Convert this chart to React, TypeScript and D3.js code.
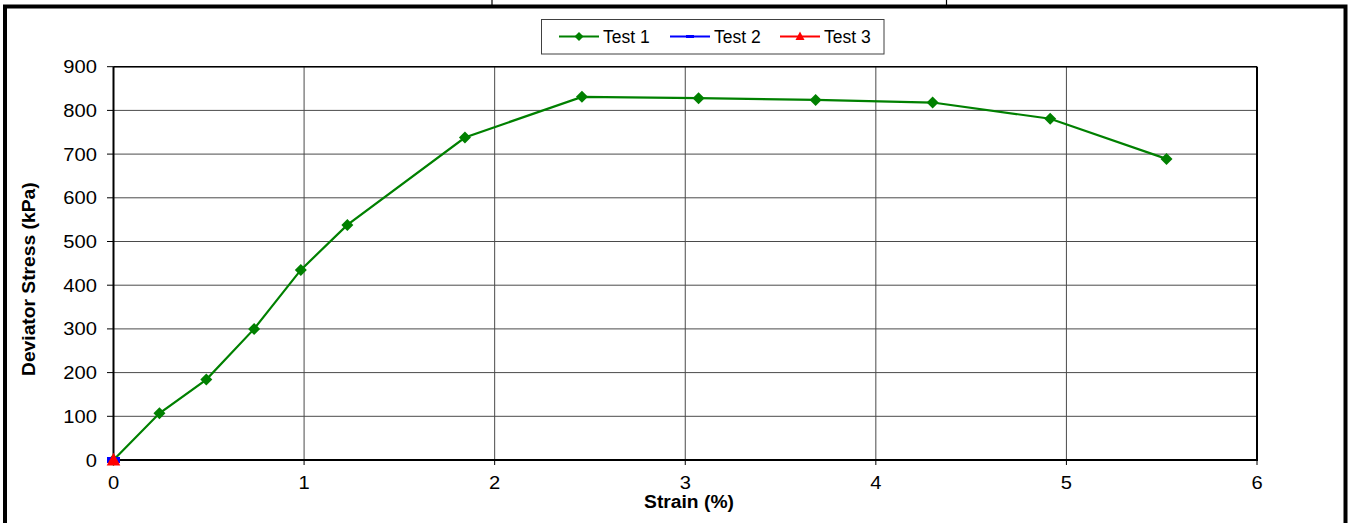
import React from "react";
import * as d3 from "d3";

const strain1 = [0, 0.241, 0.487, 0.738, 0.983, 1.227, 1.844, 2.458, 3.07, 3.684, 4.298, 4.915, 5.525];
const stress1 = [0, 107, 184, 300, 435, 538, 738, 831, 828, 824, 818, 781, 689];
const strain2 = [0];
const stress2 = [0];
const strain3 = [0];
const stress3 = [0];
const xTicks = [0, 1, 2, 3, 4, 5, 6];
const yTicks = [0, 100, 200, 300, 400, 500, 600, 700, 800, 900];
const seriesNames = ["Test 1", "Test 2", "Test 3"];
const seriesColors = ["#008000", "#0000FF", "#FF0000"];

const W = 1351;
const H = 523;
const FONT = "Arial, 'Liberation Sans', Helvetica, sans-serif";

export default function App() {
  const x = d3.scaleLinear().domain([0, 6]).range([113.5, 1257]);
  const y = d3.scaleLinear().domain([0, 900]).range([460, 66.7]);
  const line = d3
    .line<[number, number]>()
    .x((d) => x(d[0]))
    .y((d) => y(d[1]));
  const pts1: [number, number][] = strain1.map((s, i) => [s, stress1[i]]);
  const pts2: [number, number][] = strain2.map((s, i) => [s, stress2[i]]);
  const pts3: [number, number][] = strain3.map((s, i) => [s, stress3[i]]);

  const diamond = (cx: number, cy: number, r: number) =>
    `M${cx},${cy - r}L${cx + r},${cy}L${cx},${cy + r}L${cx - r},${cy}Z`;
  const triangle = (cx: number, cy: number, r: number) =>
    `M${cx},${cy - r}L${cx + r},${cy + r * 0.9}L${cx - r},${cy + r * 0.9}Z`;

  const [x0, x1] = x.range();
  const [yb, yt] = y.range();

  const legendY = 36.5;
  const legendItems = [
    { lx: 559, tx: 603 },
    { lx: 670, tx: 714 },
    { lx: 780, tx: 824 },
  ];

  return (
    <svg
      width={W}
      height={H}
      style={{ position: "absolute", left: 0, top: 0, display: "block", background: "#fff" }}
      fontFamily={FONT}
    >
      <rect x={0} y={0} width={W} height={H} fill="#fff" />
      {/* table lines above */}
      <line x1={492} x2={492} y1={0} y2={6} stroke="#000" strokeWidth={1.2} />
      <line x1={946.5} x2={946.5} y1={0} y2={6} stroke="#000" strokeWidth={1.2} />
      {/* outer frame */}
      <rect x={5} y={6.5} width={1340.5} height={600} fill="none" stroke="#000" strokeWidth={4} />

      {/* gridlines */}
      {yTicks.map((t) => (
        <line key={"gy" + t} x1={x0} x2={x1} y1={y(t)} y2={y(t)} stroke="#4a4a4a" strokeWidth={1} />
      ))}
      {xTicks.map((t) => (
        <line key={"gx" + t} x1={x(t)} x2={x(t)} y1={yb} y2={yt} stroke="#4a4a4a" strokeWidth={1} />
      ))}
      {/* plot border */}
      <line x1={x0} x2={x1} y1={yt} y2={yt} stroke="#000" strokeWidth={1.5} />
      <line x1={x1} x2={x1} y1={yt} y2={yb} stroke="#000" strokeWidth={2} />
      <line x1={x0} x2={x0} y1={yt} y2={yb} stroke="#000" strokeWidth={2} />
      <line x1={x0} x2={x1 + 1} y1={yb} y2={yb} stroke="#000" strokeWidth={2} />

      {/* ticks */}
      {yTicks.map((t) => (
        <line key={"ty" + t} x1={107} x2={x0} y1={y(t)} y2={y(t)} stroke="#000" strokeWidth={1} />
      ))}
      {xTicks.map((t) => (
        <line key={"tx" + t} x1={x(t)} x2={x(t)} y1={yb} y2={yb + 5} stroke="#000" strokeWidth={1} />
      ))}
      {yTicks.map((t) => (
        <text
          key={"ly" + t}
          transform={`translate(97,${y(t) + 6.5}) scale(1.12,1)`}
          textAnchor="end"
          fontSize={18}
          fill="#000"
        >
          {t}
        </text>
      ))}
      {xTicks.map((t) => (
        <text
          key={"lx" + t}
          transform={`translate(${x(t)},489.3) scale(1.12,1)`}
          textAnchor="middle"
          fontSize={18}
          fill="#000"
        >
          {t}
        </text>
      ))}

      {/* axis titles */}
      <text
        transform="translate(689,508) scale(1.07,1)"
        textAnchor="middle"
        fontSize={18}
        fontWeight="bold"
        fill="#000"
      >
        Strain (%)
      </text>
      <text
        transform="translate(34.5,279.2) rotate(-90) scale(1.07,1)"
        textAnchor="middle"
        fontSize={18}
        fontWeight="bold"
        fill="#000"
      >
        Deviator Stress (kPa)
      </text>

      {/* series 1 */}
      <path d={line(pts1) || ""} fill="none" stroke={seriesColors[0]} strokeWidth={2.2} />
      {pts1.map((p, i) => (
        <path key={"m1" + i} d={diamond(x(p[0]), y(p[1]), 6)} fill={seriesColors[0]} />
      ))}
      {/* series 2 */}
      <path d={line(pts2) || ""} fill="none" stroke={seriesColors[1]} strokeWidth={2.2} />
      {pts2.map((p, i) => (
        <rect
          key={"m2" + i}
          x={x(p[0]) - 6.5}
          y={y(p[1]) - 3}
          width={13}
          height={6}
          fill={seriesColors[1]}
        />
      ))}
      {/* series 3 */}
      <path d={line(pts3) || ""} fill="none" stroke={seriesColors[2]} strokeWidth={2.2} />
      {pts3.map((p, i) => (
        <path key={"m3" + i} d={triangle(x(p[0]), y(p[1]) - 0.5, 6.8)} fill={seriesColors[2]} />
      ))}

      {/* legend */}
      <rect x={541.5} y={19.5} width={342.5} height={34.5} fill="#fff" stroke="#404040" strokeWidth={1} />
      {legendItems.map((it, i) => (
        <g key={"lg" + i}>
          <line
            x1={it.lx}
            x2={it.lx + 40}
            y1={legendY}
            y2={legendY}
            stroke={seriesColors[i]}
            strokeWidth={2}
          />
          {i === 0 && <path d={diamond(it.lx + 20, legendY, 4.5)} fill={seriesColors[0]} />}
          {i === 1 && (
            <rect x={it.lx + 16} y={legendY - 1.5} width={8} height={3} fill={seriesColors[1]} />
          )}
          {i === 2 && <path d={triangle(it.lx + 20, legendY - 0.5, 4.5)} fill={seriesColors[2]} />}
          <text x={it.tx} y={legendY + 6.3} fontSize={17.5} fill="#000">
            {seriesNames[i]}
          </text>
        </g>
      ))}
    </svg>
  );
}
